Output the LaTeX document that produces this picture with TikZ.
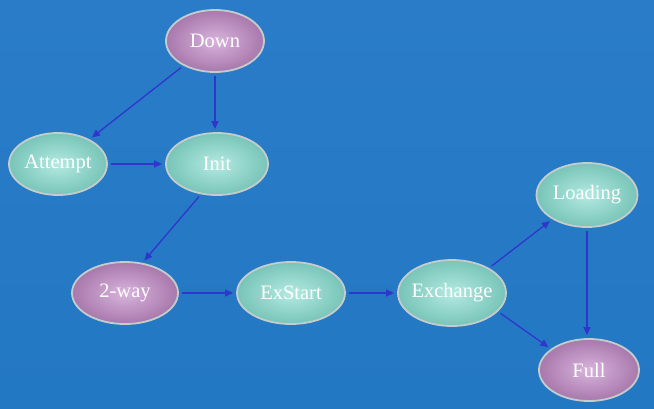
\documentclass[tikz,border=0pt]{standalone}
\usepackage{fontspec}
\setmainfont{Liberation Serif}
\usetikzlibrary{shapes.geometric,arrows.meta,shadows}
\definecolor{bgblue}{HTML}{2378C3}
\definecolor{bgtop}{HTML}{2A7CC8}
\definecolor{arrowblue}{HTML}{3035CC}
\definecolor{tealin}{HTML}{B4EAE2}
\definecolor{tealout}{HTML}{78C4B8}
\definecolor{pinkin}{HTML}{D8B4DC}
\definecolor{pinkout}{HTML}{A878AC}
\definecolor{rimgray}{HTML}{C4CCCC}
\newcommand\lbl[1]{\makebox[0pt]{#1}}
\tikzset{
  state/.style={ellipse, draw=rimgray, line width=1.8pt, inner sep=0pt,
    minimum width=102pt, minimum height=62pt, text=white,
    font=\fontsize{20.5}{24}\selectfont},
  teal/.style={state, inner color=tealin, outer color=tealout},
  pink/.style={state, inner color=pinkin, outer color=pinkout},
  conn/.style={draw=arrowblue, line width=1.3pt,
    -{Triangle[length=8pt,width=7pt]}, shorten <=3pt, shorten >=3pt}
}
\begin{document}
\begin{tikzpicture}[x=1pt,y=-1pt]
\shade[top color=bgtop, bottom color=bgblue] (0,0) rectangle (654,408);
\useasboundingbox (0,0) rectangle (654,408);
\node[pink, minimum width=98pt, minimum height=62pt] (down) at (215,41) {\lbl{Down}};
\node[teal, minimum width=98pt] (attempt) at (58,164) {\lbl{Attempt}};
\node[teal] (init) at (217,164) {\lbl{Init}};
\node[pink, minimum width=106pt] (twoway) at (125,293) {\lbl{2-way}};
\node[teal, minimum width=108pt] (exstart) at (291,293) {\lbl{ExStart}};
\node[teal, minimum width=108pt, minimum height=66pt] (exchange) at (452,293) {\lbl{Exchange}};
\node[teal, minimum width=101pt, minimum height=64pt] (loading) at (587,195) {\lbl{Loading}};
\node[pink, minimum width=100pt, minimum height=62pt] (full) at (589,370) {\lbl{Full}};
\draw[conn] (down) -- (attempt);
\draw[conn] (down.south) -- (down.south |- init.north);
\draw[conn] (attempt) -- (init);
\draw[conn] (init.242) -- (twoway.60);
\draw[conn] (twoway) -- (exstart);
\draw[conn] (exstart) -- (exchange);
\draw[conn] (exchange.34) -- (loading.215);
\draw[conn] (exchange.338) -- (full.151);
\draw[conn] (loading.south) -- (loading.south |- full.north);
\end{tikzpicture}
\end{document}
